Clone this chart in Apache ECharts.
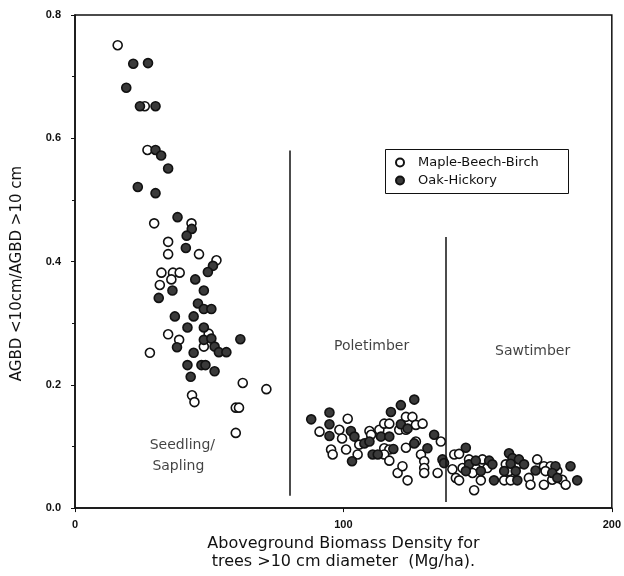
<!DOCTYPE html>
<html>
<head>
<meta charset="utf-8">
<script src="https://cdn.jsdelivr.net/npm/echarts@6/dist/echarts.min.js"></script>
<style>
  html, body { margin: 0; padding: 0; background: #fff; }
  #chart { width: 624px; height: 576px; }
</style>
</head>
<body>
<div id="chart"></div>
<script>
// 数据：两个森林类型（横轴 Mg/ha，纵轴 比值）
var mapleBeechBirch = [
    [15.9, 0.751], [26.0, 0.652], [27.0, 0.581], [29.5, 0.462], [43.4, 0.462],
    [34.7, 0.432], [34.7, 0.412], [46.2, 0.412], [52.7, 0.402], [32.2, 0.382],
    [36.5, 0.382], [39.0, 0.382], [35.9, 0.371], [31.6, 0.362], [34.7, 0.282],
    [49.8, 0.283], [38.8, 0.273], [48.0, 0.262], [27.9, 0.252], [62.5, 0.203],
    [71.3, 0.193], [43.6, 0.183], [44.5, 0.172], [59.9, 0.163], [61.1, 0.163],
    [59.9, 0.122],
    [101.6, 0.145], [91.1, 0.124], [98.5, 0.127], [99.5, 0.113], [95.4, 0.095],
    [96.0, 0.087], [101.0, 0.095], [105.9, 0.103], [105.3, 0.087], [109.7, 0.125],
    [110.3, 0.119], [113.4, 0.127], [115.2, 0.137], [117.1, 0.137], [115.2, 0.097],
    [117.1, 0.095], [115.2, 0.087], [117.1, 0.077], [120.8, 0.127], [123.3, 0.127],
    [123.3, 0.148], [125.7, 0.148], [127.0, 0.135], [129.5, 0.137], [123.3, 0.098],
    [127.0, 0.108], [120.2, 0.057], [122.0, 0.068], [123.9, 0.045], [128.9, 0.087],
    [130.1, 0.076], [130.1, 0.065], [130.1, 0.057], [136.3, 0.108], [135.1, 0.057],
    [140.6, 0.063], [141.3, 0.087], [143.1, 0.088], [141.9, 0.049], [143.1, 0.045],
    [144.4, 0.065], [149.3, 0.065], [146.8, 0.079], [151.8, 0.079], [148.1, 0.057],
    [153.6, 0.065], [151.2, 0.045], [148.7, 0.029], [159.9, 0.045], [162.3, 0.045],
    [160.5, 0.071], [165.4, 0.072], [161.7, 0.060], [169.1, 0.049], [169.7, 0.038],
    [172.2, 0.079], [174.7, 0.068], [177.2, 0.068], [175.3, 0.060], [179.7, 0.060],
    [174.7, 0.038], [177.8, 0.046], [181.5, 0.046], [182.8, 0.038]
];

var oakHickory = [
    [21.7, 0.721], [27.2, 0.722], [19.1, 0.682], [24.2, 0.652], [30.0, 0.652],
    [30.0, 0.581], [32.1, 0.572], [34.7, 0.551], [23.4, 0.521], [30.0, 0.511],
    [38.2, 0.472], [43.5, 0.453], [41.6, 0.442], [41.3, 0.422], [51.4, 0.393],
    [49.5, 0.383], [44.8, 0.371], [36.3, 0.353], [48.0, 0.353], [31.2, 0.341],
    [45.8, 0.332], [48.0, 0.323], [50.8, 0.323], [37.2, 0.311], [44.2, 0.311],
    [41.9, 0.293], [48.0, 0.293], [48.0, 0.273], [50.8, 0.275], [61.6, 0.274],
    [38.0, 0.261], [52.0, 0.262], [53.6, 0.253], [56.4, 0.253], [44.2, 0.252],
    [41.9, 0.232], [47.1, 0.232], [48.6, 0.232], [52.0, 0.222], [43.1, 0.213],
    [88.0, 0.144], [94.8, 0.155], [94.8, 0.136], [94.8, 0.117], [102.8, 0.125],
    [104.1, 0.116], [103.2, 0.076], [107.8, 0.105], [109.7, 0.108], [110.9, 0.087],
    [112.8, 0.087], [117.7, 0.156], [114.0, 0.116], [117.1, 0.116], [118.6, 0.096],
    [121.4, 0.136], [121.4, 0.167], [126.4, 0.176], [123.9, 0.129], [126.4, 0.105],
    [131.3, 0.097], [133.8, 0.119], [136.9, 0.079], [137.5, 0.073], [145.6, 0.098],
    [146.8, 0.071], [149.3, 0.077], [154.3, 0.077], [145.6, 0.060], [151.2, 0.060],
    [155.5, 0.071], [156.1, 0.045], [164.8, 0.045], [161.7, 0.089], [163.0, 0.081],
    [162.3, 0.072], [159.9, 0.060], [164.2, 0.060], [165.4, 0.079], [167.3, 0.071],
    [171.6, 0.061], [179.0, 0.068], [177.8, 0.057], [179.7, 0.049], [184.6, 0.068],
    [187.1, 0.045]
];

// 分区竖线：[x, 下端y, 上端y]
var dividers = [[80, 0.02, 0.58], [138, 0.01, 0.44]];

// 分区文字：[x, y, 文字]
var zoneLabels = [
    [40, 0.101, 'Seedling/'],
    [38.5, 0.067, 'Sapling'],
    [110.5, 0.263, 'Poletimber'],
    [170.5, 0.255, 'Sawtimber']
];

var seriesNames = ['Maple-Beech-Birch', 'Oak-Hickory'];

var font = '"Liberation Sans", Arial, sans-serif';
var wideFont = '"DejaVu Sans", sans-serif';

var myChart = echarts.init(document.getElementById('chart'));

var option = {
    animation: false,
    backgroundColor: '#fff',
    grid: {
        left: 75, right: 11, top: 15, bottom: 62,
        show: true, borderColor: '#111', borderWidth: 1.5
    },
    // 图例外框
    graphic: [{
        type: 'rect',
        left: 385, top: 149,
        shape: { width: 183, height: 44 },
        style: { fill: '#fff', stroke: '#111', lineWidth: 1 },
        z: 0
    }],
    legend: {
        data: seriesNames,
        orient: 'vertical',
        left: 385, top: 149,
        padding: [7, 10, 8, 10],
        itemGap: 5,
        itemWidth: 8, itemHeight: 8,
        icon: 'circle',
        textStyle: { fontFamily: wideFont, fontSize: 13, color: '#111', padding: [0, 0, 0, 9] }
    },
    xAxis: {
        type: 'value',
        min: 0, max: 200, interval: 100,
        name: 'Aboveground Biomass Density for\ntrees >10 cm diameter  (Mg/ha).',
        nameLocation: 'middle',
        nameGap: 25,
        nameTextStyle: { fontFamily: wideFont, fontSize: 16, color: '#111', lineHeight: 18 },
        axisLine: { lineStyle: { color: '#111', width: 1.5 } },
        axisTick: { length: 4, lineStyle: { color: '#111' } },
        axisLabel: { fontFamily: font, fontSize: 11, fontWeight: 'bold', color: '#111', margin: 11 },
        splitLine: { show: false }
    },
    yAxis: {
        type: 'value',
        min: 0, max: 0.8, interval: 0.2,
        name: 'AGBD <10cm/AGBD >10 cm',
        nameLocation: 'middle',
        nameGap: 50,
        nameTextStyle: { fontFamily: wideFont, fontSize: 15, color: '#111', padding: [0, 24, 0, 0] },
        axisLine: { lineStyle: { color: '#111', width: 1.5 } },
        axisTick: { length: 4, lineStyle: { color: '#111' } },
        minorTick: { show: true, splitNumber: 2, length: 3, lineStyle: { color: '#111' } },
        axisLabel: {
            fontFamily: font, fontSize: 11, fontWeight: 'bold', color: '#111', margin: 14,
            formatter: function (v) { return v.toFixed(1); }
        },
        splitLine: { show: false }
    },
    series: [
        {
            name: seriesNames[0],
            type: 'scatter',
            symbol: 'circle',
            symbolSize: 9,
            itemStyle: { color: '#fff', borderColor: '#111', borderWidth: 1.6, opacity: 1 },
            data: mapleBeechBirch,
            markLine: {
                silent: true,
                symbol: 'none',
                label: { show: false },
                lineStyle: { color: '#111', width: 1.5, type: 'solid' },
                data: dividers.map(function (d) {
                    return [{ coord: [d[0], d[1]] }, { coord: [d[0], d[2]] }];
                })
            }
        },
        {
            name: seriesNames[1],
            type: 'scatter',
            symbol: 'circle',
            symbolSize: 9,
            itemStyle: { color: '#3a3a3a', borderColor: '#111', borderWidth: 1.6, opacity: 1 },
            data: oakHickory
        },
        {
            // 分区文字
            type: 'scatter',
            symbolSize: 0,
            silent: true,
            data: zoneLabels.map(function (z) { return { value: [z[0], z[1]], name: z[2] }; }),
            label: {
                show: true,
                position: 'inside',
                formatter: '{b}',
                fontFamily: wideFont, fontSize: 14, color: '#111'
            }
        }
    ]
};

myChart.setOption(option);
</script>
</body>
</html>
